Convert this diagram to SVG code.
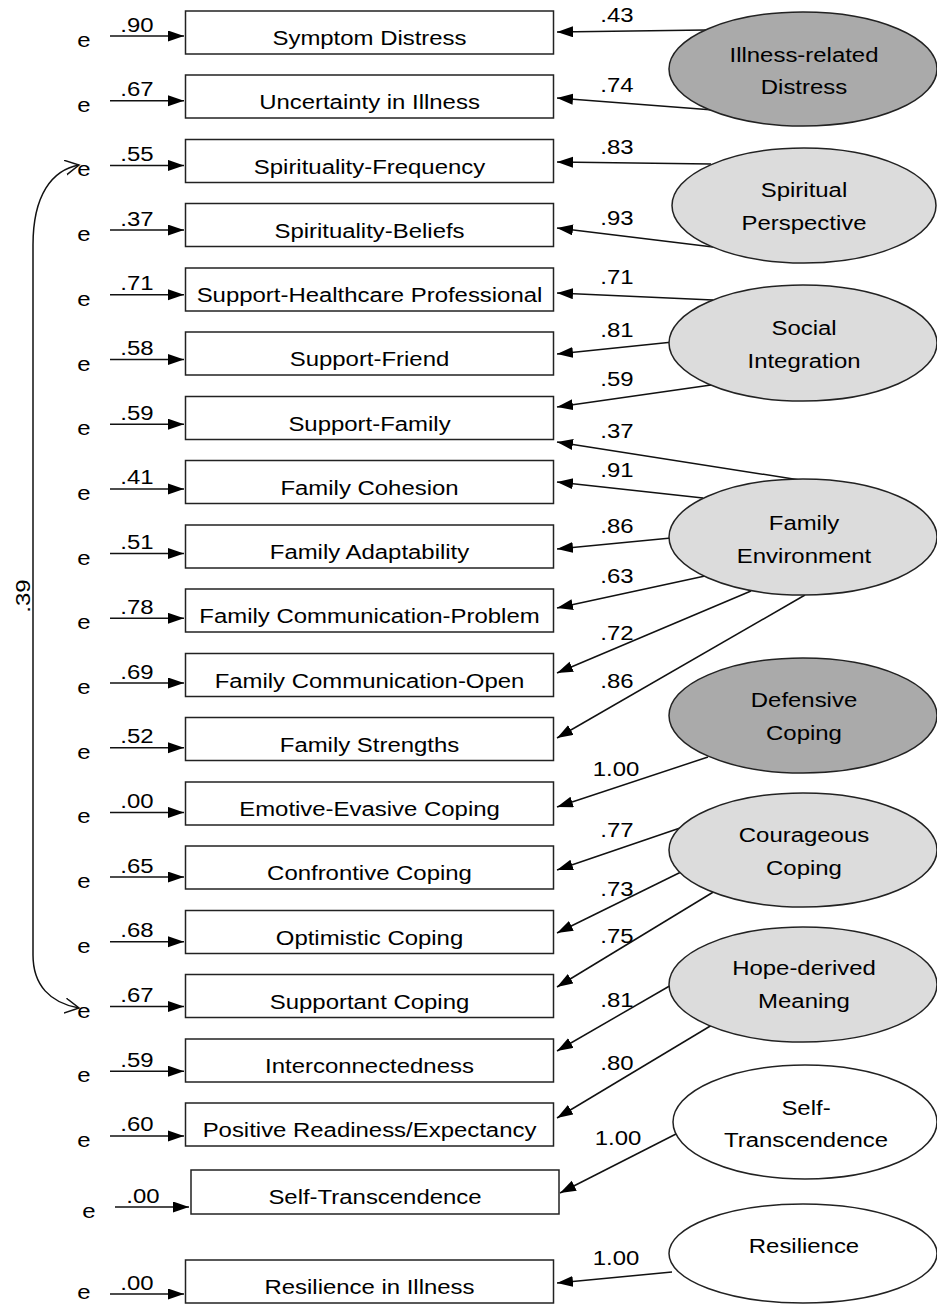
<svg xmlns="http://www.w3.org/2000/svg" width="937" height="1305" viewBox="0 0 937 1305">
<style>
text{font-family:"Liberation Sans",Arial,sans-serif;font-size:21px;fill:#000;text-anchor:middle}
.box{fill:#fff;stroke:#222;stroke-width:1.5}
.lat{stroke:#222;stroke-width:1.5}
.dark{fill:#aaaaaa}
.light{fill:#dcdcdc}
.white{fill:#fff}
#connectors line{stroke:#111;stroke-width:1.5;marker-end:url(#ah)}
#cov{fill:none;stroke:#111;stroke-width:1.5;marker-start:url(#oh);marker-end:url(#oh)}
</style>
<defs>
<marker id="ah" markerUnits="userSpaceOnUse" markerWidth="17" markerHeight="12" refX="16" refY="5.5" orient="auto"><path d="M0,0 L16,5.5 L0,11 z" fill="#000"/></marker>
<marker id="oh" markerUnits="userSpaceOnUse" markerWidth="16" markerHeight="16" refX="14" refY="7.5" orient="auto-start-reverse"><path d="M0,0 L14,7.5 L0,15" fill="none" stroke="#111" stroke-width="1.5"/></marker>
</defs>
<rect width="937" height="1305" fill="#fff"/>

<g id="connectors">
<line x1="110" y1="36" x2="184" y2="36"/>
<line x1="110" y1="100.7" x2="184" y2="100.7"/>
<line x1="110" y1="165.4" x2="184" y2="165.4"/>
<line x1="110" y1="230.1" x2="184" y2="230.1"/>
<line x1="110" y1="294.8" x2="184" y2="294.8"/>
<line x1="110" y1="359.5" x2="184" y2="359.5"/>
<line x1="110" y1="424.2" x2="184" y2="424.2"/>
<line x1="110" y1="488.9" x2="184" y2="488.9"/>
<line x1="110" y1="553.6" x2="184" y2="553.6"/>
<line x1="110" y1="618.3" x2="184" y2="618.3"/>
<line x1="110" y1="683" x2="184" y2="683"/>
<line x1="110" y1="747.7" x2="184" y2="747.7"/>
<line x1="110" y1="812.4" x2="184" y2="812.4"/>
<line x1="110" y1="877.1" x2="184" y2="877.1"/>
<line x1="110" y1="941.8" x2="184" y2="941.8"/>
<line x1="110" y1="1006.5" x2="184" y2="1006.5"/>
<line x1="110" y1="1071.2" x2="184" y2="1071.2"/>
<line x1="110" y1="1135.9" x2="184" y2="1135.9"/>
<line x1="115" y1="1207" x2="189" y2="1207"/>
<line x1="110" y1="1294" x2="184" y2="1294"/>

<line x1="706" y1="30" x2="557" y2="32"/>
<line x1="713" y1="110" x2="557" y2="98"/>
<line x1="711" y1="164" x2="557" y2="162"/>
<line x1="713" y1="247" x2="557" y2="228"/>
<line x1="713" y1="300" x2="557" y2="293"/>
<line x1="673" y1="342" x2="557" y2="354"/>
<line x1="711" y1="385" x2="557" y2="407"/>
<line x1="806" y1="481" x2="557" y2="442"/>
<line x1="703" y1="498" x2="557" y2="482"/>
<line x1="671" y1="538" x2="557" y2="549"/>
<line x1="705" y1="576" x2="557" y2="608"/>
<line x1="751" y1="591" x2="557" y2="673"/>
<line x1="805" y1="595" x2="557" y2="738"/>
<line x1="708" y1="757" x2="557" y2="807"/>
<line x1="683" y1="827" x2="557" y2="870"/>
<line x1="681" y1="872" x2="557" y2="933"/>
<line x1="715" y1="891" x2="557" y2="987"/>
<line x1="673" y1="984" x2="557" y2="1051"/>
<line x1="712" y1="1025" x2="557" y2="1118"/>
<line x1="676" y1="1134" x2="560" y2="1193"/>
<line x1="672" y1="1272" x2="557" y2="1283"/>

<path id="cov" d="M79,165 C52,170 33,195 33,245 L33,955 C33,985 50,1003 79,1008"/>
</g>

<g id="errors">
<text transform="translate(84 47) scale(1.14 1)">e</text>
<text transform="translate(84 111.7) scale(1.14 1)">e</text>
<text transform="translate(84 176.4) scale(1.14 1)">e</text>
<text transform="translate(84 241.1) scale(1.14 1)">e</text>
<text transform="translate(84 305.8) scale(1.14 1)">e</text>
<text transform="translate(84 370.5) scale(1.14 1)">e</text>
<text transform="translate(84 435.2) scale(1.14 1)">e</text>
<text transform="translate(84 499.9) scale(1.14 1)">e</text>
<text transform="translate(84 564.6) scale(1.14 1)">e</text>
<text transform="translate(84 629.3) scale(1.14 1)">e</text>
<text transform="translate(84 694) scale(1.14 1)">e</text>
<text transform="translate(84 758.7) scale(1.14 1)">e</text>
<text transform="translate(84 823.4) scale(1.14 1)">e</text>
<text transform="translate(84 888.1) scale(1.14 1)">e</text>
<text transform="translate(84 952.8) scale(1.14 1)">e</text>
<text transform="translate(84 1017.5) scale(1.14 1)">e</text>
<text transform="translate(84 1082.2) scale(1.14 1)">e</text>
<text transform="translate(84 1146.9) scale(1.14 1)">e</text>
<text transform="translate(89 1218) scale(1.14 1)">e</text>
<text transform="translate(84 1299) scale(1.14 1)">e</text>
</g>

<g id="loadings-left">
<text transform="translate(137 31.5) scale(1.14 1)">.90</text>
<text transform="translate(137 96.2) scale(1.14 1)">.67</text>
<text transform="translate(137 160.9) scale(1.14 1)">.55</text>
<text transform="translate(137 225.6) scale(1.14 1)">.37</text>
<text transform="translate(137 290.3) scale(1.14 1)">.71</text>
<text transform="translate(137 355) scale(1.14 1)">.58</text>
<text transform="translate(137 419.7) scale(1.14 1)">.59</text>
<text transform="translate(137 484.4) scale(1.14 1)">.41</text>
<text transform="translate(137 549.1) scale(1.14 1)">.51</text>
<text transform="translate(137 613.8) scale(1.14 1)">.78</text>
<text transform="translate(137 678.5) scale(1.14 1)">.69</text>
<text transform="translate(137 743.2) scale(1.14 1)">.52</text>
<text transform="translate(137 807.9) scale(1.14 1)">.00</text>
<text transform="translate(137 872.6) scale(1.14 1)">.65</text>
<text transform="translate(137 937.3) scale(1.14 1)">.68</text>
<text transform="translate(137 1002) scale(1.14 1)">.67</text>
<text transform="translate(137 1066.7) scale(1.14 1)">.59</text>
<text transform="translate(137 1131.4) scale(1.14 1)">.60</text>
<text transform="translate(143 1202.5) scale(1.14 1)">.00</text>
<text transform="translate(137 1289.5) scale(1.14 1)">.00</text>
<text transform="translate(30 596) rotate(-90) scale(1.14 1)">.39</text>
</g>

<g id="loadings-right">
<text transform="translate(617 22) scale(1.14 1)">.43</text>
<text transform="translate(617 92) scale(1.14 1)">.74</text>
<text transform="translate(617 154) scale(1.14 1)">.83</text>
<text transform="translate(617 225) scale(1.14 1)">.93</text>
<text transform="translate(617 284) scale(1.14 1)">.71</text>
<text transform="translate(617 337) scale(1.14 1)">.81</text>
<text transform="translate(617 386) scale(1.14 1)">.59</text>
<text transform="translate(617 438) scale(1.14 1)">.37</text>
<text transform="translate(617 477) scale(1.14 1)">.91</text>
<text transform="translate(617 533) scale(1.14 1)">.86</text>
<text transform="translate(617 583) scale(1.14 1)">.63</text>
<text transform="translate(617 640) scale(1.14 1)">.72</text>
<text transform="translate(617 688) scale(1.14 1)">.86</text>
<text transform="translate(616 776) scale(1.14 1)">1.00</text>
<text transform="translate(617 837) scale(1.14 1)">.77</text>
<text transform="translate(617 896) scale(1.14 1)">.73</text>
<text transform="translate(617 943) scale(1.14 1)">.75</text>
<text transform="translate(617 1007) scale(1.14 1)">.81</text>
<text transform="translate(617 1070) scale(1.14 1)">.80</text>
<text transform="translate(618 1145) scale(1.14 1)">1.00</text>
<text transform="translate(616 1265) scale(1.14 1)">1.00</text>
</g>

<g id="n-symptom"><rect class="box" x="185.5" y="11" width="368" height="43"/><text transform="translate(369.5 45) scale(1.14 1)">Symptom Distress</text></g>
<g id="n-uncertainty"><rect class="box" x="185.5" y="75" width="368" height="43"/><text transform="translate(369.5 109) scale(1.14 1)">Uncertainty in Illness</text></g>
<g id="n-spfreq"><rect class="box" x="185.5" y="139.5" width="368" height="43"/><text transform="translate(369.5 173.5) scale(1.14 1)">Spirituality-Frequency</text></g>
<g id="n-spbel"><rect class="box" x="185.5" y="203.5" width="368" height="43"/><text transform="translate(369.5 237.5) scale(1.14 1)">Spirituality-Beliefs</text></g>
<g id="n-suphc"><rect class="box" x="185.5" y="268" width="368" height="43"/><text transform="translate(369.5 302) scale(1.14 1)">Support-Healthcare Professional</text></g>
<g id="n-supfr"><rect class="box" x="185.5" y="332" width="368" height="43"/><text transform="translate(369.5 366) scale(1.14 1)">Support-Friend</text></g>
<g id="n-supfam"><rect class="box" x="185.5" y="396.5" width="368" height="43"/><text transform="translate(369.5 430.5) scale(1.14 1)">Support-Family</text></g>
<g id="n-famcoh"><rect class="box" x="185.5" y="460.5" width="368" height="43"/><text transform="translate(369.5 494.5) scale(1.14 1)">Family Cohesion</text></g>
<g id="n-famad"><rect class="box" x="185.5" y="525" width="368" height="43"/><text transform="translate(369.5 559) scale(1.14 1)">Family Adaptability</text></g>
<g id="n-famcp"><rect class="box" x="185.5" y="589" width="368" height="43"/><text transform="translate(369.5 623) scale(1.14 1)">Family Communication-Problem</text></g>
<g id="n-famco"><rect class="box" x="185.5" y="653.5" width="368" height="43"/><text transform="translate(369.5 687.5) scale(1.14 1)">Family Communication-Open</text></g>
<g id="n-famst"><rect class="box" x="185.5" y="717.5" width="368" height="43"/><text transform="translate(369.5 751.5) scale(1.14 1)">Family Strengths</text></g>
<g id="n-emev"><rect class="box" x="185.5" y="782" width="368" height="43"/><text transform="translate(369.5 816) scale(1.14 1)">Emotive-Evasive Coping</text></g>
<g id="n-conf"><rect class="box" x="185.5" y="846" width="368" height="43"/><text transform="translate(369.5 880) scale(1.14 1)">Confrontive Coping</text></g>
<g id="n-opt"><rect class="box" x="185.5" y="910.5" width="368" height="43"/><text transform="translate(369.5 944.5) scale(1.14 1)">Optimistic Coping</text></g>
<g id="n-supp"><rect class="box" x="185.5" y="974.5" width="368" height="43"/><text transform="translate(369.5 1008.5) scale(1.14 1)">Supportant Coping</text></g>
<g id="n-inter"><rect class="box" x="185.5" y="1039" width="368" height="43"/><text transform="translate(369.5 1073) scale(1.14 1)">Interconnectedness</text></g>
<g id="n-posr"><rect class="box" x="185.5" y="1103" width="368" height="43"/><text transform="translate(369.5 1137) scale(1.14 1)">Positive Readiness/Expectancy</text></g>
<g id="n-selft"><rect class="box" x="191" y="1170" width="368" height="44"/><text transform="translate(375 1204) scale(1.14 1)">Self-Transcendence</text></g>
<g id="n-resil"><rect class="box" x="185.5" y="1260" width="368" height="43"/><text transform="translate(369.5 1294) scale(1.14 1)">Resilience in Illness</text></g>

<g id="L-illness"><ellipse class="lat dark" cx="803" cy="69" rx="134" ry="57"/><text transform="translate(804 62) scale(1.14 1)">Illness-related</text><text transform="translate(804 94) scale(1.14 1)">Distress</text></g>
<g id="L-spiritual"><ellipse class="lat light" cx="804" cy="205.5" rx="132" ry="57.5"/><text transform="translate(804 197) scale(1.14 1)">Spiritual</text><text transform="translate(804 230) scale(1.14 1)">Perspective</text></g>
<g id="L-social"><ellipse class="lat light" cx="803" cy="343" rx="134" ry="58"/><text transform="translate(804 335) scale(1.14 1)">Social</text><text transform="translate(804 368) scale(1.14 1)">Integration</text></g>
<g id="L-family"><ellipse class="lat light" cx="803" cy="537" rx="134" ry="58"/><text transform="translate(804 530) scale(1.14 1)">Family</text><text transform="translate(804 563) scale(1.14 1)">Environment</text></g>
<g id="L-defensive"><ellipse class="lat dark" cx="803" cy="715.5" rx="134" ry="57.5"/><text transform="translate(804 707) scale(1.14 1)">Defensive</text><text transform="translate(804 740) scale(1.14 1)">Coping</text></g>
<g id="L-courageous"><ellipse class="lat light" cx="803" cy="850" rx="134" ry="57"/><text transform="translate(804 842) scale(1.14 1)">Courageous</text><text transform="translate(804 875) scale(1.14 1)">Coping</text></g>
<g id="L-hope"><ellipse class="lat light" cx="803" cy="984.5" rx="134" ry="57.5"/><text transform="translate(804 975) scale(1.14 1)">Hope-derived</text><text transform="translate(804 1008) scale(1.14 1)">Meaning</text></g>
<g id="L-selftrans"><ellipse class="lat white" cx="805" cy="1122" rx="132" ry="57"/><text transform="translate(806 1115) scale(1.14 1)">Self-</text><text transform="translate(806 1147) scale(1.14 1)">Transcendence</text></g>
<g id="L-resilience"><ellipse class="lat white" cx="803" cy="1253.5" rx="134" ry="49.5"/><text transform="translate(804 1253) scale(1.14 1)">Resilience</text></g>
</svg>
